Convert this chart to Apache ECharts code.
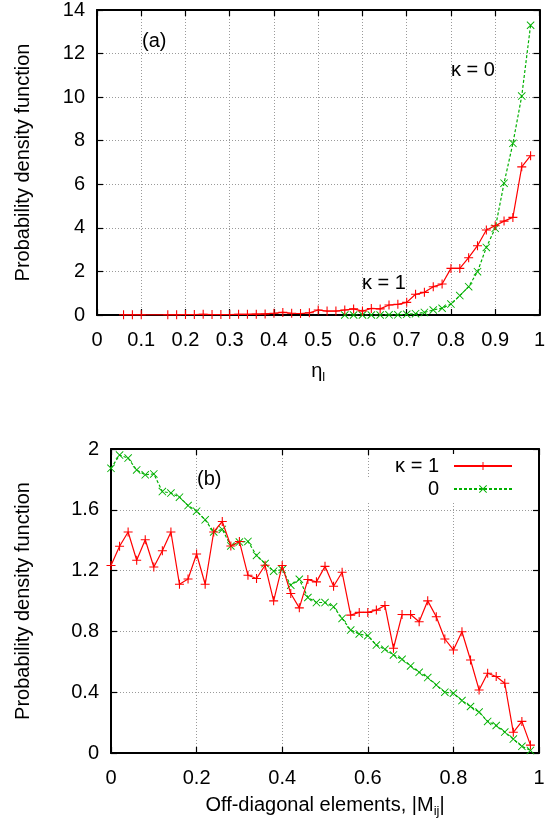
<!DOCTYPE html>
<html>
<head>
<meta charset="utf-8">
<script src="https://cdn.jsdelivr.net/npm/echarts@6/dist/echarts.min.js"></script>
<style>
html,body{margin:0;padding:0;background:#fff;}
#c{width:548px;height:833px;}
</style>
</head>
<body>
<div id="c"></div>
<script>
// ---- Panel (a): PDF of eta_l ----
var etaK1 = [0.06,0.08,0.10,0.16,0.18,0.20,0.22,0.24,0.26,0.28,0.30,0.32,0.34,0.36,0.38,0.40,0.42,0.44,0.46,0.48,0.50,0.52,0.54,0.56,0.58,0.60,0.62,0.64,0.66,0.68,0.70,0.72,0.74,0.76,0.78,0.80,0.82,0.84,0.86,0.88,0.90,0.92,0.94,0.96,0.98];
var pdfEtaK1 = [0.01,0.01,0.01,0.01,0.01,0.02,0.02,0.03,0.02,0.02,0.02,0.03,0.03,0.04,0.05,0.08,0.12,0.08,0.07,0.10,0.23,0.18,0.18,0.23,0.28,0.18,0.30,0.28,0.46,0.49,0.58,0.95,1.04,1.30,1.42,2.14,2.14,2.63,3.18,3.90,4.10,4.31,4.48,6.80,7.31];
var etaK0 = [0.56,0.58,0.60,0.62,0.64,0.66,0.68,0.70,0.72,0.74,0.76,0.78,0.80,0.82,0.84,0.86,0.88,0.90,0.92,0.94,0.96,0.98];
var pdfEtaK0 = [0.00,0.00,0.00,0.00,0.00,0.01,0.01,0.03,0.06,0.12,0.23,0.31,0.50,0.89,1.30,1.99,3.10,3.98,6.05,7.88,10.05,13.30];

// ---- Panel (b): PDF of off-diagonal elements ----
var mK1 = [0.00,0.02,0.04,0.06,0.08,0.10,0.12,0.14,0.16,0.18,0.20,0.22,0.24,0.26,0.28,0.30,0.32,0.34,0.36,0.38,0.40,0.42,0.44,0.46,0.48,0.50,0.52,0.54,0.56,0.58,0.60,0.62,0.64,0.66,0.68,0.70,0.72,0.74,0.76,0.78,0.80,0.82,0.84,0.86,0.88,0.90,0.92,0.94,0.96,0.98];
var pdfMK1 = [1.233,1.36,1.454,1.268,1.403,1.224,1.331,1.454,1.11,1.145,1.309,1.11,1.454,1.523,1.362,1.392,1.169,1.148,1.235,1.001,1.233,1.049,0.955,1.141,1.126,1.228,1.097,1.189,0.907,0.925,0.925,0.94,0.97,0.689,0.911,0.911,0.863,1.001,0.896,0.75,0.678,0.798,0.612,0.415,0.525,0.503,0.459,0.136,0.208,0.052];
var mK0 = [0.00,0.02,0.04,0.06,0.08,0.10,0.12,0.14,0.16,0.18,0.20,0.22,0.24,0.26,0.28,0.30,0.32,0.34,0.36,0.38,0.40,0.42,0.44,0.46,0.48,0.50,0.52,0.54,0.56,0.58,0.60,0.62,0.64,0.66,0.68,0.70,0.72,0.74,0.76,0.78,0.80,0.82,0.84,0.86,0.88,0.90,0.92,0.94,0.96,0.98];
var pdfMK0 = [1.873,1.96,1.94,1.862,1.83,1.836,1.72,1.71,1.683,1.628,1.591,1.534,1.454,1.471,1.362,1.388,1.392,1.30,1.246,1.196,1.207,1.104,1.143,1.023,0.99,0.99,0.962,0.885,0.809,0.783,0.772,0.71,0.682,0.645,0.616,0.573,0.531,0.496,0.448,0.40,0.393,0.345,0.306,0.269,0.208,0.181,0.138,0.092,0.044,0.017];

// tick labels
var ticksEta = ['0','0.1','0.2','0.3','0.4','0.5','0.6','0.7','0.8','0.9','1'];
var ticksPdfA = ['0','2','4','6','8','10','12','14'];
var ticksM = ['0','0.2','0.4','0.6','0.8','1'];
var ticksPdfB = ['0','0.4','0.8','1.2','1.6','2'];

function pairs(xs, ys){ return xs.map(function(x,i){ return [x, ys[i]]; }); }

var FONT = 'Liberation Sans, Arial, sans-serif';
var FS = 20;
var RED = '#ff0000';
var GREEN = '#00b000';
var PLUS = 'path://M0,4.4H10V5.6H0Z M4.4,0H5.6V10H4.4Z';
var CROSS = 'path://M0,0.8L0.8,0L10,9.2L9.2,10Z M9.2,0L10,0.8L0.8,10L0,9.2Z';

function labelFmt(arr, step){
  return function(v){ var i = Math.round(v/step); return arr[i] !== undefined ? arr[i] : ''; };
}
var gridLine = {show:true, lineStyle:{color:'#9a9a9a', type:[1,2], width:1}};
var axLine = {show:true, onZero:false, lineStyle:{color:'#000', width:2}};
var tick = {show:true, inside:true, length:6, lineStyle:{color:'#000', width:1.2}};

function xMain(gi, interval, arr, name, gap, rich){
  return {type:'value', gridIndex:gi, min:0, max:1, interval:interval, position:'bottom',
    axisLine:axLine, axisTick:tick, splitLine:gridLine,
    axisLabel:{fontFamily:FONT, fontSize:FS, color:'#000', margin:15, formatter:labelFmt(arr, interval)},
    name:name, nameLocation:'middle', nameGap:gap,
    nameTextStyle:{fontFamily:FONT, fontSize:FS, color:'#000', rich:rich}};
}
function xMirror(gi, interval){
  return {type:'value', gridIndex:gi, min:0, max:1, interval:interval, position:'top',
    axisLine:axLine, axisTick:tick, splitLine:{show:false}, axisLabel:{show:false}};
}
function yMain(gi, max, interval, arr, gap){
  return {type:'value', gridIndex:gi, min:0, max:max, interval:interval, position:'left',
    axisLine:axLine, axisTick:tick, splitLine:gridLine,
    axisLabel:{fontFamily:FONT, fontSize:FS, color:'#000', margin:12, formatter:labelFmt(arr, interval)},
    name:'Probability density function', nameLocation:'middle', nameGap:gap, nameRotate:90,
    nameTextStyle:{fontFamily:FONT, fontSize:FS, color:'#000'}};
}
function yMirror(gi, max, interval){
  return {type:'value', gridIndex:gi, min:0, max:max, interval:interval, position:'right',
    axisLine:axLine, axisTick:tick, splitLine:{show:false}, axisLabel:{show:false}};
}
var subRich = {
  m:{fontFamily:FONT, fontSize:FS, color:'#000'},
  s:{fontFamily:FONT, fontSize:13, color:'#000', verticalAlign:'bottom', padding:[12,0,0,0]}
};

var chart = echarts.init(document.getElementById('c'), null, {renderer:'canvas'});
chart.setOption({
  animation:false,
  backgroundColor:'#fff',
  grid:[
    {left:97, right:8, top:10, height:305},
    {left:111, right:9, top:449, height:304}
  ],
  xAxis:[
    xMain(0, 0.1, ticksEta, '{m|η}{s|l}', 44, subRich),
    xMirror(0, 0.1),
    xMain(1, 0.2, ticksM, '{m|Off-diagonal elements, |M}{s|ij}{m||}', 40, subRich),
    xMirror(1, 0.2)
  ],
  yAxis:[
    yMain(0, 14, 2, ticksPdfA, 64),
    yMirror(0, 14, 2),
    yMain(1, 2, 0.4, ticksPdfB, 78),
    yMirror(1, 2, 0.4)
  ],
  legend:[
    {data:['κ = 1'], right:31, top:454, align:'right', itemWidth:58, itemHeight:10, itemGap:6,
     backgroundColor:'#fff', padding:[2,4,2,20],
     textStyle:{fontFamily:FONT, fontSize:FS, color:'#000', padding:[0,10,0,0]}},
    {data:['0'], right:31, top:477, align:'right', itemWidth:58, itemHeight:10, itemGap:6,
     backgroundColor:'#fff', padding:[2,4,4,60],
     textStyle:{fontFamily:FONT, fontSize:FS, color:'#000', padding:[0,10,0,0]}}
  ],
  graphic:[
    {type:'text', left:142, top:31, style:{text:'(a)', font:FS+'px '+FONT, fill:'#000'}},
    {type:'text', left:451, top:60, style:{text:'κ = 0', font:FS+'px '+FONT, fill:'#000'}},
    {type:'text', left:362, top:273, style:{text:'κ = 1', font:FS+'px '+FONT, fill:'#000'}},
    {type:'text', left:197, top:469, style:{text:'(b)', font:FS+'px '+FONT, fill:'#000'}}
  ],
  series:[
    {name:'a1', type:'line', xAxisIndex:0, yAxisIndex:0, data:pairs(etaK1, pdfEtaK1),
     symbol:PLUS, symbolSize:9, showAllSymbol:true, lineStyle:{color:RED, width:1.2},
     itemStyle:{color:RED}, z:3},
    {name:'a0', type:'line', xAxisIndex:0, yAxisIndex:0, data:pairs(etaK0, pdfEtaK0),
     symbol:CROSS, symbolSize:8, showAllSymbol:true, lineStyle:{color:GREEN, width:1.2, type:[3,2]},
     itemStyle:{color:GREEN}, z:2},
    {name:'κ = 1', type:'line', xAxisIndex:2, yAxisIndex:2, data:pairs(mK1, pdfMK1),
     symbol:PLUS, symbolSize:9, showAllSymbol:true, lineStyle:{color:RED, width:1.2},
     itemStyle:{color:RED}, z:3},
    {name:'0', type:'line', xAxisIndex:2, yAxisIndex:2, data:pairs(mK0, pdfMK0),
     symbol:CROSS, symbolSize:8, showAllSymbol:true, lineStyle:{color:GREEN, width:1.2, type:[3,2]},
     itemStyle:{color:GREEN}, z:2}
  ]
});
</script>
</body>
</html>
